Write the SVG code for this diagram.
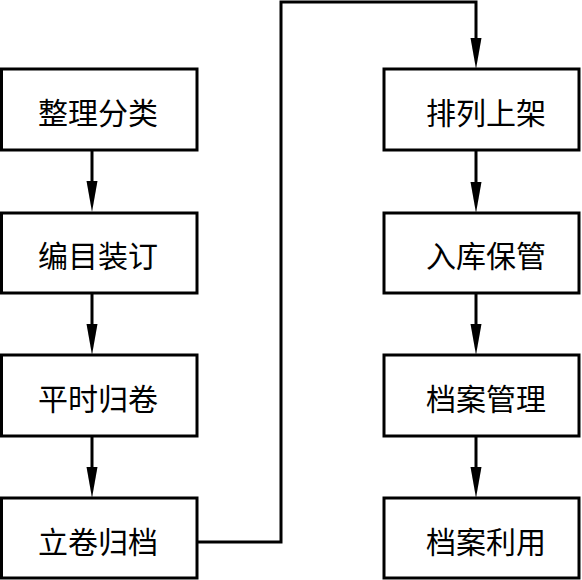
<svg xmlns="http://www.w3.org/2000/svg" width="582" height="580" viewBox="0 0 582 580">
<style>
.box{fill:#fff;stroke:#000;stroke-width:3}
.lbl{font-family:"Noto Sans CJK SC","Noto Sans CJK JP",sans-serif;font-size:30px;fill:#000;text-anchor:middle;dominant-baseline:central}
.ln{fill:none;stroke:#000;stroke-width:3}
.arr{marker-end:url(#ah)}
</style>
<defs>
<marker id="ah" markerUnits="userSpaceOnUse" markerWidth="31" markerHeight="12" refX="1" refY="6" orient="auto" viewBox="0 0 31 12">
<path d="M0,0.5 L31,6 L0,11.5 Z" fill="#000"/>
</marker>
</defs>
<rect width="582" height="580" fill="#fff"/>
<g id="connectors">
<line class="ln arr" x1="92" y1="150" x2="92" y2="182"/>
<line class="ln arr" x1="92" y1="293" x2="92" y2="325"/>
<line class="ln arr" x1="92" y1="436" x2="92" y2="468"/>
<polyline class="ln arr" points="197,542 281,542 281,2 476,2 476,39"/>
<line class="ln arr" x1="476" y1="150" x2="476" y2="183"/>
<line class="ln arr" x1="476" y1="293" x2="476" y2="325"/>
<line class="ln arr" x1="476" y1="436" x2="476" y2="468"/>
</g>
<g id="n1"><rect class="box" x="1.5" y="69" width="195.5" height="81"/><text class="lbl" x="98" y="111">整理分类</text></g>
<g id="n2"><rect class="box" x="1.5" y="213" width="195.5" height="80"/><text class="lbl" x="98" y="254">编目装订</text></g>
<g id="n3"><rect class="box" x="1.5" y="355" width="195.5" height="81"/><text class="lbl" x="98" y="397">平时归卷</text></g>
<g id="n4"><rect class="box" x="1.5" y="498" width="195.5" height="80"/><text class="lbl" x="98" y="540">立卷归档</text></g>
<g id="n5"><rect class="box" x="384" y="69" width="195" height="81"/><text class="lbl" x="486" y="111">排列上架</text></g>
<g id="n6"><rect class="box" x="384" y="213" width="195" height="80"/><text class="lbl" x="486" y="254">入库保管</text></g>
<g id="n7"><rect class="box" x="384" y="355" width="195" height="81"/><text class="lbl" x="486" y="397">档案管理</text></g>
<g id="n8"><rect class="box" x="384" y="498" width="195" height="80"/><text class="lbl" x="486" y="540">档案利用</text></g>
</svg>
